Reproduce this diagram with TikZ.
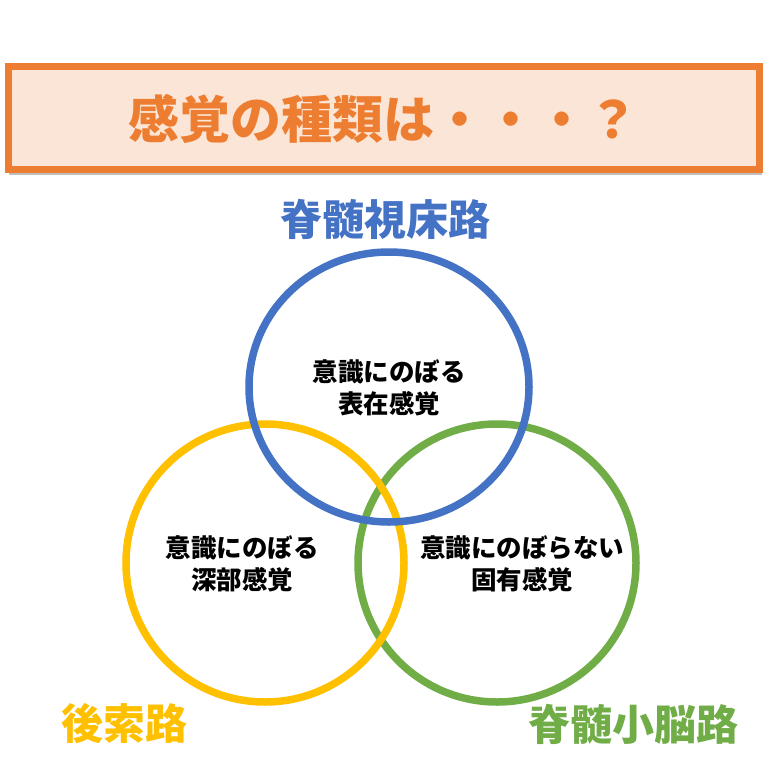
\documentclass[tikz,border=0pt]{standalone}
\usepackage{fontspec}
\newfontfamily\jp{Noto Sans CJK JP}
\definecolor{cBlue}{HTML}{4472C4}
\definecolor{cYellow}{HTML}{FFC000}
\definecolor{cGreen}{HTML}{70AD47}
\definecolor{cOrange}{HTML}{ED7D31}
\definecolor{cPeach}{HTML}{FBE5D6}
\tikzset{
  ring/.style={line width=7.5pt},
  pathlabel/.style={font=\jp\bfseries\fontsize{42}{46}\selectfont, inner sep=0pt},
  inner/.style={font=\jp\bfseries\fontsize{25.5}{31.5}\selectfont, align=center, inner sep=0pt, text=black},
}
\begin{document}
\begin{tikzpicture}[x=1pt,y=-1pt]
\useasboundingbox (0,0) rectangle (768,768);
\fill[white] (0,0) rectangle (768,768);
% title box
\fill[black!25] (9,71) rectangle (762,175);
\draw[cOrange, fill=cPeach, line width=7pt] (8.5,67) rectangle (759.5,169.5);
\node[font=\jp\bfseries\fontsize{51}{56}\selectfont, text=cOrange, inner sep=0pt] (title) at (383,119) {感覚の種類は・・・？};
% circles
\draw[ring, cGreen] (497,563) ellipse [x radius=139, y radius=139];
\draw[ring, cYellow] (265,563) ellipse [x radius=139, y radius=139];
\draw[ring, cBlue] (389,387) ellipse [x radius=140, y radius=135];
% path labels
\node[pathlabel, text=cBlue] (lb) at (385,219) {脊髄視床路};
\node[pathlabel, text=cYellow] (ly) at (124,724) {後索路};
\node[pathlabel, text=cGreen] (lg) at (633,724) {脊髄小脳路};
% inner texts
\node[inner] (tb) at (389,388) {意識にのぼる\\表在感覚};
\node[inner] (ty) at (242,564) {意識にのぼる\\深部感覚};
\node[inner] (tg) at (522,564) {意識にのぼらない\\固有感覚};
\end{tikzpicture}
\end{document}
